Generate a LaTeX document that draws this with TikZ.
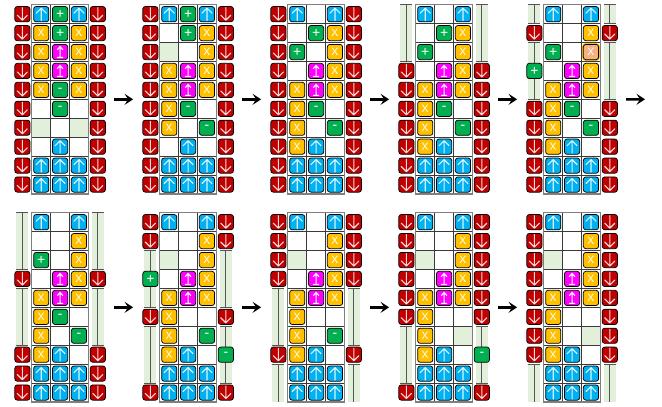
\documentclass[tikz,border=0pt]{standalone}
\usepackage{fontspec}
\setmainfont{Liberation Sans}
\usetikzlibrary{arrows.meta}
\definecolor{blueT}{HTML}{00B0F0}
\definecolor{orangeT}{HTML}{FFC000}
\definecolor{greenT}{HTML}{00B050}
\definecolor{redT}{HTML}{C00000}
\definecolor{magT}{HTML}{FF00FF}
\definecolor{peachT}{HTML}{F4B183}
\definecolor{tintT}{HTML}{E2EFDA}
\definecolor{gridO}{HTML}{7F7F7F}
\definecolor{gridI}{HTML}{3A3A3A}
\definecolor{stripL}{HTML}{555555}
\tikzset{
  tile/.style={draw=black,line width=0.75pt,rounded corners=2.5pt,minimum size=15.2pt,inner sep=0pt,outer sep=0pt,text=white,font=\fontsize{14}{14}\selectfont},
  panelbox/.style={minimum width=92pt,minimum height=189.3pt,inner sep=0pt,outer sep=0pt},
  glyphU/.style={draw=white!85!blueT,line width=1.1pt,line cap=round,line join=round},
  glyphD/.style={draw=white!85!redT,line width=1.1pt,line cap=round,line join=round},
  glyphI/.style={draw=white,line width=1.1pt},
  bigarrow/.style={line width=2.4pt,-{Stealth[length=8.5pt,width=11pt,inset=3.5pt]},shorten <=8pt,shorten >=9pt},
}
\newcommand{\tileU}[2]{\node[tile,fill=blueT] (#2) at (#1) {};
  \draw[glyphU,shift={(#1)}] (0,6.5)--(0,-6) (-5,-1)--(0,-6)--(5,-1);}
\newcommand{\tileD}[2]{\node[tile,fill=redT] (#2) at (#1) {};
  \draw[glyphD,shift={(#1)}] (0,-6.5)--(0,6) (-5,1)--(0,6)--(5,1);}
\newcommand{\tileI}[2]{\node[tile,fill=magT] (#2) at (#1) {};
  \draw[glyphI,shift={(#1)}] (0,5.5)--(0,-5) (-2.8,-2.2)--(0,-5.5)--(2.8,-2.2) (-3,5.5)--(3,5.5);}
\newcommand{\tileX}[2]{\node[tile,fill=orangeT,text=white!85!orangeT] (#2) at (#1) {x};}
\newcommand{\tileY}[2]{\node[tile,fill=peachT,preaction={draw=orangeT,line width=2.6pt},text=white!85!peachT] (#2) at (#1) {x};}
\newcommand{\tileP}[2]{\node[tile,fill=greenT] (#2) at (#1) {+};}
\newcommand{\tileM}[2]{\node[tile,fill=greenT] (#2) at (#1) {\raisebox{-1.2pt}{-}};}
\newcommand{\tileo}[2]{}
\newcommand{\stripx}[3]{%
  \pgfmathsetmacro\sx{9.43+18.87*#1}\pgfmathsetmacro\sa{18.93*#2}\pgfmathsetmacro\sb{18.93*(#3+1)}%
  \fill[tintT] (\sx-6,\sa) rectangle (\sx+6,\sb);
  \draw[stripL,line width=1pt] (\sx,\sa)--(\sx,\sb);
  \draw[stripL,line width=1pt] (\sx-6,\sa)--(\sx+6,\sa);
  \ifnum#3<9 \draw[stripL,line width=1pt] (\sx-6,\sb)--(\sx+6,\sb);\fi}
\newcommand{\tintx}[2]{%
  \pgfmathsetmacro\sx{18.87*#1}\pgfmathsetmacro\sa{18.93*#2}%
  \fill[tintT] (\sx,\sa) rectangle (\sx+18.87,\sa+18.93);}
\newcommand{\panel}[5]{%
  \begin{scope}[shift={(#2,#3)}]
    \node[panelbox] (#1) at (28.3,94.65) {};
    #5
    \foreach \k in {1,2,...,9} \draw[gridI,line width=0.8pt] (0,18.93*\k)--(56.6,18.93*\k);
    \foreach \k in {1,2} \draw[gridI,line width=0.8pt] (18.87*\k,0)--(18.87*\k,189.3);
    \draw[gridO,line width=1.2pt] (0,0) rectangle (56.6,189.3);
    \foreach \t [count=\n from 0] in {#4} {
      \pgfmathtruncatemacro\rw{int(\n/5)}
      \pgfmathtruncatemacro\cl{mod(\n,5)-1}
      \pgfmathsetmacro\tx{9.43+18.87*\cl}
      \pgfmathsetmacro\ty{9.47+18.93*\rw}
      \csname tile\t\endcsname{\tx,\ty}{#1-\n}
    }
  \end{scope}}
\begin{document}
\begin{tikzpicture}[x=1pt,y=-1pt]
\useasboundingbox (0,0) rectangle (662,407);
% top row
\panel{pa}{31.8}{4.7}{
D,U,P,U,D, D,X,P,X,D, D,X,I,X,D, D,X,I,X,D, D,X,M,X,D,
D,o,M,o,D, D,o,o,o,D, D,o,U,o,D, D,U,U,U,D, D,U,U,U,D}{\tintx{0}{6}\tintx{2}{6}}
\panel{pb}{159.8}{4.7}{
D,U,P,U,D, D,o,P,X,D, D,o,o,X,D, D,X,I,X,D, D,X,I,X,D,
D,X,M,o,D, D,X,o,M,D, D,o,U,o,D, D,U,U,U,D, D,U,U,U,D}{\tintx{0}{2}}
\panel{pc}{287.8}{4.7}{
D,U,o,U,D, D,o,P,X,D, D,P,o,X,D, D,o,I,X,D, D,X,I,X,D,
D,X,M,o,D, D,X,o,M,D, D,X,U,o,D, D,U,U,U,D, D,U,U,U,D}{}
\panel{pd}{415.8}{4.7}{
o,U,o,U,o, o,o,P,X,o, o,P,o,X,o, D,o,I,X,D, D,X,I,X,D,
D,X,M,o,D, D,X,o,M,D, D,X,U,o,D, D,U,U,U,D, D,U,U,U,D}{\stripx{-1}{0}{2}\stripx{3}{0}{2}}
\panel{pe}{543.8}{4.7}{
o,U,o,U,o, D,o,o,X,D, o,P,o,Y,o, P,o,I,X,o, o,X,I,X,o,
D,X,M,o,D, D,X,o,M,D, D,X,U,o,D, D,U,U,U,D, D,U,U,U,D}{\stripx{-1}{0}{0}\stripx{3}{0}{0}\stripx{-1}{2}{4}\stripx{3}{2}{4}}
% bottom row
\panel{pf}{31.8}{212.7}{
o,U,o,U,o, o,o,o,X,o, o,P,o,X,o, D,o,I,X,D, o,X,I,X,o,
o,X,M,o,o, o,X,o,M,o, D,X,U,o,D, D,U,U,U,D, D,U,U,U,D}{\stripx{-1}{0}{2}\stripx{3}{0}{2}\stripx{-1}{4}{6}\stripx{3}{4}{6}}
\panel{pg}{159.8}{212.7}{
D,U,o,U,D, D,o,o,X,D, o,o,o,X,o, P,o,I,X,o, o,X,I,X,o,
D,X,o,o,D, o,X,o,M,o, o,X,U,o,M, o,U,U,U,o, D,U,U,U,D}{\tintx{0}{2}\stripx{-1}{2}{4}\stripx{3}{2}{4}\stripx{-1}{6}{8}\stripx{3}{6}{8}}
\panel{ph}{287.8}{212.7}{
D,U,o,U,D, D,o,o,X,D, D,o,o,X,D, D,o,I,X,D, o,X,I,X,o,
o,X,o,o,o, o,X,o,M,o, D,X,U,o,D, o,U,U,U,o, o,U,U,U,o}{\tintx{0}{2}\stripx{-1}{4}{6}\stripx{3}{4}{6}\stripx{-1}{8}{9}\stripx{3}{8}{9}}
\panel{pi}{415.8}{212.7}{
D,U,o,U,D, D,o,o,X,D, D,o,o,X,D, D,o,I,X,D, D,X,I,X,D,
D,X,o,o,D, o,X,o,o,o, o,X,U,o,M, o,U,U,U,o, D,U,U,U,D}{\tintx{0}{2}\tintx{2}{6}\stripx{-1}{6}{8}\stripx{3}{6}{8}}
\panel{pj}{543.8}{212.7}{
D,U,o,U,D, D,o,o,X,D, D,o,o,X,D, D,o,I,X,D, D,X,I,X,D,
D,X,o,o,D, D,X,o,o,D, D,X,U,o,D, o,U,U,U,o, o,U,U,U,o}{\tintx{0}{2}\tintx{2}{6}\stripx{-1}{8}{9}\stripx{3}{8}{9}}
% arrows
\coordinate (endtop) at (654,99.3);
\draw[bigarrow] (pa)--(pb);
\draw[bigarrow] (pb)--(pc);
\draw[bigarrow] (pc)--(pd);
\draw[bigarrow] (pd)--(pe);
\draw[bigarrow] (pe)--(endtop);
\draw[bigarrow] (pf)--(pg);
\draw[bigarrow] (pg)--(ph);
\draw[bigarrow] (ph)--(pi);
\draw[bigarrow] (pi)--(pj);
\end{tikzpicture}
\end{document}
